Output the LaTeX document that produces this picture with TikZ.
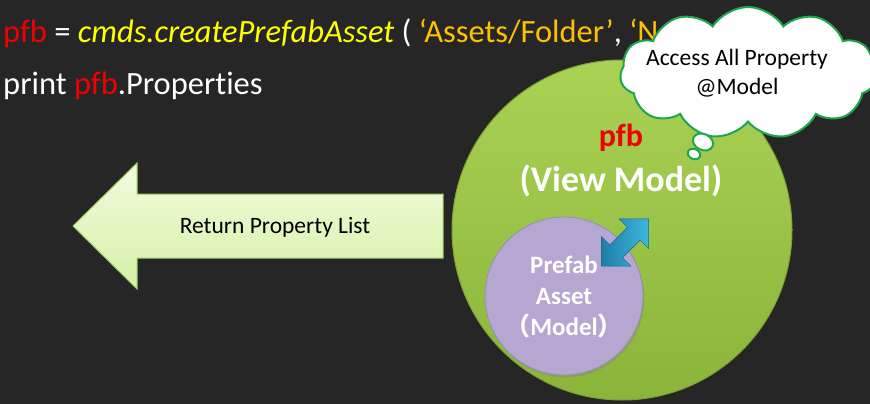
\documentclass[tikz,border=0pt]{standalone}
\usepackage{fontspec}
\setmainfont{Carlito}[Ligatures=NoCommon]
\newfontfamily\cjkfont{Noto Sans CJK SC}
\usetikzlibrary{shapes.symbols,shadows,shapes.geometric}
\definecolor{bg}{HTML}{262626}
\definecolor{pfbred}{HTML}{F00000}
\definecolor{codeyel}{HTML}{FFFF00}
\definecolor{strorange}{HTML}{FFC000}
\definecolor{vmtop}{HTML}{AAD255}
\definecolor{vmbot}{HTML}{8AB53A}
\definecolor{vmedge}{HTML}{7DA232}
\definecolor{modelfill}{HTML}{B6A6D2}
\definecolor{modeledge}{HTML}{9A8AB8}
\definecolor{arrtop}{HTML}{F2FCDF}
\definecolor{arrbot}{HTML}{D5F1A6}
\definecolor{arredge}{HTML}{9CC860}
\definecolor{cloudedge}{HTML}{1EA64E}
\definecolor{bluea}{HTML}{3CB8E0}
\definecolor{blueb}{HTML}{1E7EA8}
\tikzset{
  codetext/.style={anchor=base west, inner sep=0pt, font=\fontsize{32.5}{38}\selectfont, text=white},
  bigwhite/.style={text=white, font=\bfseries\fontsize{36}{40}\selectfont, inner sep=0pt},
  modeltext/.style={text=white, font=\bfseries\fontsize{25}{30}\selectfont, inner sep=0pt, align=center},
  bubble/.style={ellipse, draw=cloudedge, line width=2pt, fill=white, inner sep=0pt},
}
\begin{document}
\begin{tikzpicture}[x=1pt,y=-1pt]
\useasboundingbox (0,0) rectangle (870,404);
\clip (0,0) rectangle (870,404);
\fill[bg] (0,0) rectangle (870,404);

% code lines
\node[codetext] (line1) at (3,43) {\textcolor{pfbred}{pfb} = \textcolor{codeyel}{\itshape cmds.createPrefabAsset} ( \textcolor{strorange}{‘Assets/Folder’}, \textcolor{strorange}{‘N}};
\node[codetext] (line2) at (3,95) {print \textcolor{pfbred}{pfb}.Properties};

% return arrow
\path[draw=arredge, line width=1pt, top color=arrtop, bottom color=arrbot]
  (73,226) -- (137,163) -- (137,194) -- (443,194) -- (443,258) -- (137,258) -- (137,289) -- cycle;
\node[font=\fontsize{23.5}{28}\selectfont, text=black, inner sep=0pt] (ret) at (275,227) {Return Property List};

% view model circle
\node[circle, minimum size=340pt, draw=vmedge, line width=1pt, top color=vmtop, bottom color=vmbot] (vm) at (622,230) {};
\node[text=pfbred, font=\bfseries\fontsize{32}{36}\selectfont, inner sep=0pt] (pfb) at (621,138) {pfb};
\node[bigwhite] (vmtext) at (621,181) {(View Model)};

% model circle
\node[circle, minimum size=158pt, fill=modelfill, draw=modeledge, line width=0.8pt,
  drop shadow={shadow xshift=1.5pt, shadow yshift=-2.5pt, opacity=0.35}] (model) at (564,296) {};
\node[modeltext] (modeltext) at (564,297) {Prefab\\[1pt]Asset\\[1pt]{\cjkfont （}Model{\cjkfont ）}};

% blue double arrow
\begin{scope}[shift={(625,242.5)}, rotate=45]
  \path[draw=blueb!80!black, line width=0.4pt, left color=blueb, right color=bluea]
    (-33.5,0) -- (-12.5,21) -- (-12.5,9) -- (12.5,9) -- (12.5,21) -- (33.5,0)
    -- (12.5,-21) -- (12.5,-9) -- (-12.5,-9) -- (-12.5,-21) -- cycle;
\end{scope}

% thought cloud
\node[cloud, cloud puffs=11, cloud puff arc=115, cloud ignores aspect, minimum width=256pt, minimum height=132pt,
  draw=cloudedge, line width=2pt, fill=white] (cloud) at (748,73) {};
\node[align=center, text=black, inner sep=0pt, font=\fontsize{23.5}{29}\selectfont] (cloudtext) at (737,73) {Access All Property\\@Model};
\node[bubble, minimum width=21pt, minimum height=16pt, rotate=-25] (b1) at (703,142) {};
\node[bubble, minimum width=13pt, minimum height=10pt, rotate=-25] (b2) at (694,154) {};
\end{tikzpicture}
\end{document}
